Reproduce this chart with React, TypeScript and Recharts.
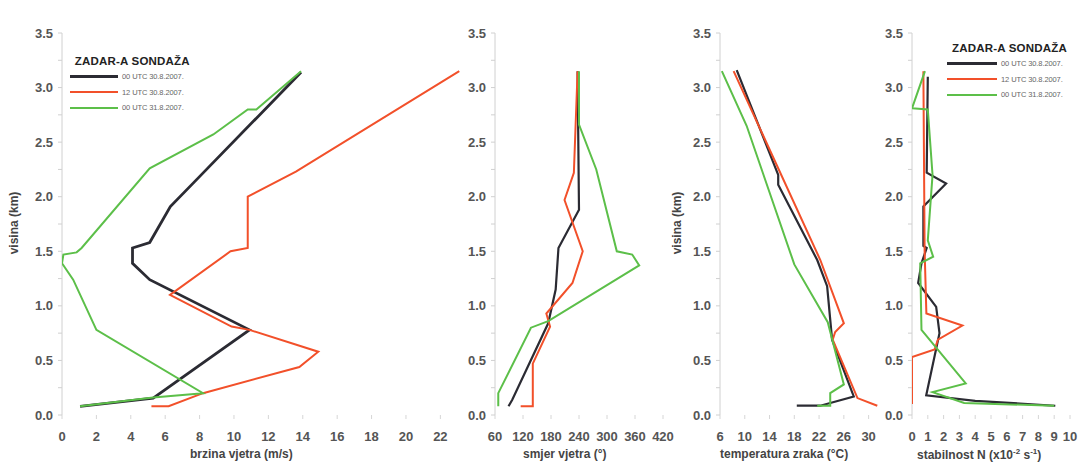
import { ScatterChart, Scatter, XAxis, YAxis } from 'recharts'

const BLACK = '#2b2b33'
const RED = '#f2502a'
const GREEN = '#5cbf49'

const seriesNames = ['00 UTC 30.8.2007.', '12 UTC 30.8.2007.', '00 UTC 31.8.2007.']
const heightTicks = [0, 0.25, 0.5, 0.75, 1, 1.25, 1.5, 1.75, 2, 2.25, 2.5, 2.75, 3, 3.25, 3.5]

// brzina vjetra (m/s) vs visina (km)
const speedTicks = [0, 2, 4, 6, 8, 10, 12, 14, 16, 18, 20, 22]
const speed00 = [[1.05, 0.08], [5.3, 0.155], [10.9, 0.78], [5.1, 1.24], [4.1, 1.39], [4.1, 1.53], [5.1, 1.58], [6.3, 1.91], [7.6, 2.12], [13.9, 3.14]]
const speed12 = [[5.2, 0.08], [6.2, 0.08], [8.2, 0.2], [13.8, 0.44], [14.9, 0.58], [10.9, 0.78], [9.86, 0.81], [6.28, 1.1], [9.8, 1.5], [10.8, 1.53], [10.8, 2.0], [13.6, 2.23], [23.1, 3.15]]
const speed31 = [[1.05, 0.08], [5.3, 0.16], [8.2, 0.2], [2.0, 0.78], [0.65, 1.24], [0, 1.39], [0.08, 1.47], [0.85, 1.49], [1.14, 1.53], [5.1, 2.26], [8.8, 2.57], [10.8, 2.8], [11.3, 2.8], [13.9, 3.15]]

// smjer vjetra (°)
const dirTicks = [60, 120, 180, 240, 300, 360, 420]
const dir00 = [[89, 0.08], [97, 0.14], [174, 0.84], [190, 1.15], [196, 1.53], [240, 1.88], [237, 3.15]]
const dir12 = [[115, 0.08], [141, 0.08], [141, 0.47], [178, 0.81], [170, 0.93], [226, 1.21], [248, 1.5], [209, 1.97], [229, 2.22], [237, 3.15]]
const dir31 = [[67, 0.08], [67, 0.2], [137, 0.8], [174, 0.86], [369, 1.37], [354, 1.47], [321, 1.5], [277, 2.25], [240, 2.66], [240, 3.15]]

// temperatura zraka (°C)
const tempTicks = [6, 10, 14, 18, 22, 26, 30]
const temp00 = [[18.4, 0.085], [22.2, 0.085], [27.6, 0.17], [24.1, 0.69], [23.3, 1.18], [21.7, 1.42], [15.4, 2.11], [15.4, 2.2], [8.7, 3.16]]
const temp12 = [[31.4, 0.085], [28.2, 0.155], [24.2, 0.69], [24.6, 0.76], [26.0, 0.84], [22.2, 1.42], [8.2, 3.15]]
const temp31 = [[21.7, 0.085], [23.8, 0.085], [23.8, 0.2], [26.0, 0.28], [23.4, 0.85], [18.0, 1.38], [10.3, 2.65], [6.3, 3.15]]

// stabilnost N (x10⁻² s⁻¹)
const stabTicks = [0, 1, 2, 3, 4, 5, 6, 7, 8, 9, 10]
const stab00 = [[9.07, 0.085], [4.0, 0.13], [0.9, 0.18], [1.74, 0.75], [1.53, 0.99], [0.39, 1.21], [0.6, 1.39], [0.93, 1.53], [0.72, 1.55], [0.72, 1.91], [2.16, 2.12], [0.93, 2.22], [1.0, 3.1]]
const stab12 = [[0, 0.1], [0, 0.53], [1.43, 0.6], [1.64, 0.69], [3.19, 0.82], [0.91, 0.93], [0.8, 1.5], [0.72, 3.15]]
const stab31 = [[9.0, 0.085], [3.3, 0.11], [1.3, 0.21], [3.4, 0.29], [0.6, 0.78], [0.52, 1.39], [1.34, 1.45], [1.0, 1.6], [1.3, 2.2], [1.0, 2.8], [0, 2.81], [0.82, 3.15]]

const toPts = (arr: number[][]) => arr.map(([x, h]) => ({ x, h }))

const tickStyle = { fill: '#555', fontSize: 13, fontWeight: 700, fontFamily: 'Liberation Sans, Arial, sans-serif' }
const titleStyle: React.CSSProperties = {
  position: 'absolute',
  fontFamily: 'Liberation Sans, Arial, sans-serif',
  fontWeight: 700,
  fontSize: 12,
  color: '#444',
  whiteSpace: 'nowrap',
}

const NoDot = () => <g />

interface PanelProps {
  left: number
  width: number
  yWidth: number
  right?: number
  domain: [number, number]
  ticks: number[]
  series: number[][][]
  widths?: number[]
}

function Panel({ left, width, yWidth, right = 0, domain, ticks, series, widths = [2.2, 2, 2] }: PanelProps) {
  const colors = [BLACK, RED, GREEN]
  return (
    <div style={{ position: 'absolute', left, top: 0 }}>
      <ScatterChart width={width} height={464} margin={{ top: 33, right, bottom: 0, left: 0 }}>
        <XAxis
          type="number"
          dataKey="x"
          domain={domain}
          ticks={ticks}
          interval={0}
          allowDataOverflow
          height={49}
          axisLine={false}
          tickLine={{ stroke: '#d6d6d6' }}
          tickSize={4}
          tickMargin={13}
          tick={tickStyle}
        />
        <YAxis
          type="number"
          dataKey="h"
          domain={[0, 3.5]}
          ticks={heightTicks}
          interval={0}
          width={yWidth}
          axisLine={{ stroke: '#d0d0d0' }}
          tickLine={{ stroke: '#d0d0d0' }}
          tickSize={4}
          tickMargin={5}
          tick={tickStyle}
          tickFormatter={(v: number) => (Math.abs(v * 2 - Math.round(v * 2)) < 1e-6 ? v.toFixed(1) : '')}
        />
        {series.map((s, i) => (
          <Scatter
            key={i}
            data={toPts(s)}
            line={{ stroke: colors[i], strokeWidth: widths[i] }}
            lineJointType="linear"
            shape={NoDot}
            isAnimationActive={false}
          />
        ))}
      </ScatterChart>
    </div>
  )
}

function LegendBox({ left, top, title, lineW, gap }: { left: number; top: number; title: string; lineW: number; gap: number }) {
  const colors = [BLACK, RED, GREEN]
  return (
    <div style={{ position: 'absolute', left, top, fontFamily: 'Liberation Sans, Arial, sans-serif' }}>
      <div style={{ fontWeight: 700, fontSize: 11.5, color: '#222', letterSpacing: 0.2, marginLeft: lineW * 0.1, height: 14 }}>{title}</div>
      {seriesNames.map((n, i) => (
        <div key={n} style={{ display: 'flex', alignItems: 'center', height: gap }}>
          <div style={{ width: lineW, height: i === 0 ? 3 : 2, background: colors[i] }} />
          <span style={{ fontSize: 7.5, color: '#666', marginLeft: 4, letterSpacing: -0.1 }}>{n}</span>
        </div>
      ))}
    </div>
  )
}

export default function App() {
  return (
    <div style={{ position: 'absolute', left: 0, top: 0, width: 1079, height: 464, background: '#fff', overflow: 'hidden' }}>
      <Panel left={0} width={461} yWidth={62} domain={[0, 23.2]} ticks={speedTicks} series={[speed00, speed12, speed31]} widths={[2.8, 2, 2]} />
      <Panel left={455} width={222} yWidth={40} right={14} domain={[60, 420]} ticks={dirTicks} series={[dir00, dir12, dir31]} />
      <Panel left={680} width={201} yWidth={40} domain={[6, 32]} ticks={tempTicks} series={[temp00, temp12, temp31]} />
      <Panel left={872} width={207} yWidth={40} right={9} domain={[0, 10]} ticks={stabTicks} series={[stab00, stab12, stab31]} />

      <div style={{ ...titleStyle, left: 190, top: 447 }}>brzina vjetra (m/s)</div>
      <div style={{ ...titleStyle, left: 523, top: 447 }}>smjer vjetra (°)</div>
      <div style={{ ...titleStyle, left: 720, top: 447 }}>temperatura zraka (°C)</div>
      <div style={{ ...titleStyle, left: 917, top: 447 }}>
        stabilnost N (x10<sup style={{ fontSize: 8 }}>-2</sup> s<sup style={{ fontSize: 8 }}>-1</sup>)
      </div>

      <div style={{ ...titleStyle, left: 14, top: 223, transform: 'translate(-50%, -50%) rotate(-90deg)' }}>visina (km)</div>
      <div style={{ ...titleStyle, left: 677, top: 223, transform: 'translate(-50%, -50%) rotate(-90deg)' }}>visina (km)</div>

      <LegendBox left={70} top={55} title="ZADAR-A SONDAŽA" lineW={48} gap={15.5} />
      <LegendBox left={947} top={42} title="ZADAR-A SONDAŽA" lineW={50} gap={15.5} />
    </div>
  )
}
